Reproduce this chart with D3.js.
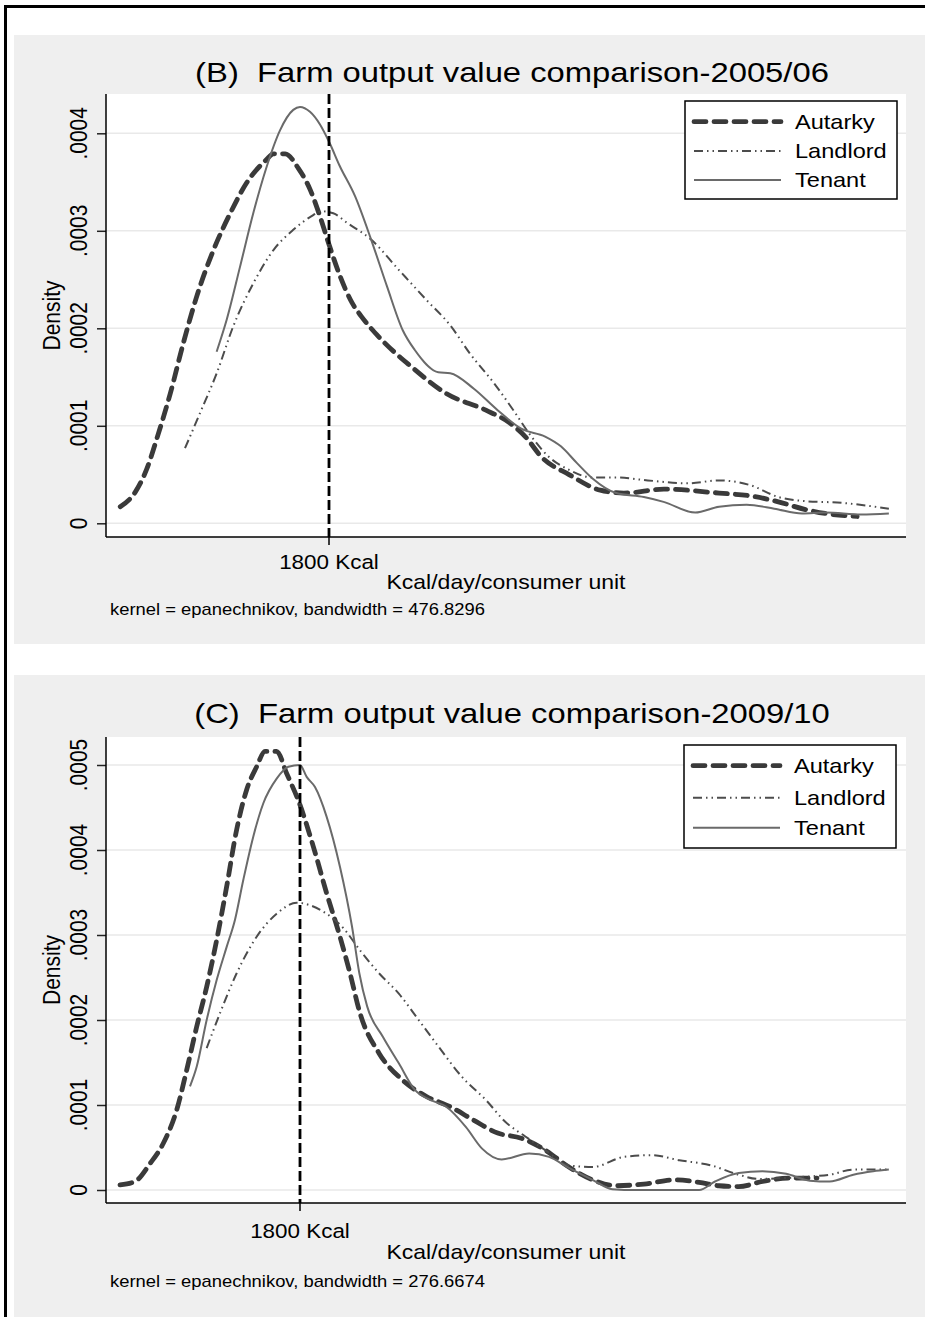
<!DOCTYPE html>
<html>
<head>
<meta charset="utf-8">
<script src="https://cdn.jsdelivr.net/npm/d3@7"></script>
<style>
  body { margin: 0; background: #fff; }
  svg { display: block; font-family: "Liberation Sans", Arial, sans-serif; }
  svg text { white-space: pre; }
</style>
</head>
<body>
<div id="chart"></div>
<script>
// density values below are in units of 1e-4, x in Kcal/day/consumer unit
const UNIT = 1e-4;
const seriesNames = ["Autarky", "Landlord", "Tenant"];

// panel B: 2005/06
const titleB = "(B)  Farm output value comparison-2005/06";
const noteB = "kernel = epanechnikov, bandwidth = 476.8296";
const yTicksB = [0, 0.0001, 0.0002, 0.0003, 0.0004];
const autarkyB = [[130,0.17],[250,0.32],[340,0.55],[435,0.92],[530,1.33],[635,1.85],[740,2.32],[875,2.80],[1010,3.18],[1140,3.49],[1300,3.73],[1355,3.79],[1450,3.79],[1555,3.64],[1650,3.42],[1730,3.14],[1800,2.86],[1890,2.53],[1985,2.26],[2060,2.12],[2200,1.91],[2455,1.61],[2740,1.33],[3055,1.16],[3245,1.03],[3370,0.89],[3500,0.68],[3720,0.50],[3970,0.34],[4160,0.31],[4480,0.35],[4920,0.31],[5175,0.28],[5395,0.22],[5615,0.14],[5775,0.10],[6025,0.07]];
const landlordB = [[648,0.77],[768,1.13],[902,1.54],[1034,2.02],[1194,2.46],[1354,2.80],[1514,3.01],[1648,3.14],[1742,3.20],[1834,3.18],[1947,3.08],[2137,2.91],[2358,2.60],[2580,2.29],[2770,2.03],[2928,1.74],[3118,1.44],[3275,1.16],[3402,0.92],[3560,0.68],[3718,0.55],[3908,0.47],[4098,0.47],[4350,0.44],[4666,0.41],[4920,0.44],[5173,0.39],[5394,0.27],[5584,0.23],[5900,0.21],[6279,0.15]];
const tenantB = [[901,1.76],[982,2.09],[1088,2.63],[1194,3.18],[1302,3.66],[1408,4.03],[1514,4.24],[1568,4.27],[1648,4.22],[1728,4.09],[1805,3.90],[1884,3.67],[2010,3.35],[2137,2.91],[2264,2.43],[2390,1.98],[2485,1.78],[2674,1.55],[2770,1.54],[2959,1.38],[3149,1.16],[3338,0.97],[3529,0.89],[3655,0.79],[3782,0.62],[3908,0.46],[4098,0.31],[4319,0.27],[4477,0.22],[4730,0.11],[4920,0.17],[5141,0.19],[5362,0.15],[5584,0.10],[5774,0.11],[6058,0.09],[6279,0.10]];

// panel C: 2009/10
const titleC = "(C)  Farm output value comparison-2009/10";
const noteC = "kernel = epanechnikov, bandwidth = 276.6674";
const yTicksC = [0, 0.0001, 0.0002, 0.0003, 0.0004, 0.0005];
const autarkyC = [[720,0.06],[810,0.10],[900,0.31],[980,0.55],[1060,0.94],[1120,1.41],[1180,1.92],[1240,2.39],[1300,2.94],[1360,3.57],[1420,4.24],[1480,4.71],[1540,4.98],[1590,5.16],[1660,5.16],[1720,4.90],[1800,4.53],[1880,4.04],[1960,3.49],[2040,2.98],[2100,2.55],[2160,2.08],[2274,1.61],[2417,1.29],[2559,1.10],[2701,0.98],[2843,0.82],[2986,0.67],[3128,0.61],[3271,0.47],[3413,0.27],[3555,0.12],[3697,0.05],[3863,0.07],[4053,0.12],[4195,0.09],[4314,0.05],[4432,0.04],[4575,0.10],[4741,0.14],[4902,0.14]];
const landlordC = [[1240,1.67],[1320,2.08],[1420,2.55],[1540,2.98],[1660,3.25],[1780,3.38],[1860,3.35],[1960,3.25],[2060,3.08],[2160,2.82],[2274,2.55],[2393,2.31],[2512,2.00],[2630,1.69],[2772,1.33],[2915,1.06],[3033,0.80],[3152,0.63],[3271,0.47],[3413,0.29],[3555,0.27],[3745,0.39],[3911,0.41],[4076,0.35],[4266,0.29],[4432,0.18],[4551,0.13],[4693,0.14],[4859,0.16],[4978,0.18],[5120,0.24],[5333,0.24]];
const tenantC = [[1140,1.22],[1180,1.45],[1240,2.00],[1300,2.47],[1360,2.86],[1410,3.18],[1460,3.65],[1520,4.16],[1580,4.55],[1660,4.84],[1730,4.98],[1800,5.00],[1840,4.86],[1890,4.74],[1960,4.39],[2040,3.80],[2112,3.10],[2156,2.55],[2203,2.16],[2298,1.80],[2393,1.49],[2488,1.18],[2582,1.06],[2677,0.98],[2796,0.74],[2891,0.49],[3010,0.36],[3175,0.43],[3294,0.39],[3413,0.26],[3555,0.12],[3674,0.01],[3816,0.00],[4195,0.00],[4290,0.10],[4432,0.20],[4575,0.22],[4717,0.19],[4859,0.11],[4978,0.10],[5120,0.18],[5239,0.22],[5333,0.24]];

const refLine = 1800;
const refLabel = "1800 Kcal";
const xTitle = "Kcal/day/consumer unit";
const yTitle = "Density";

const W = 925, H = 1317;
const SX = 1.15; // the source graph is stretched sideways a bit

const styles = [
  { color: "#3a3a3a", width: 4.8, dash: "12,8", cap: "round" },
  { color: "#4c4c4c", width: 2, dash: "9,4,1.5,4,1.5,4", cap: "butt" },
  { color: "#6a6a6a", width: 2, dash: null, cap: "butt" }
];

const svg = d3.select("#chart").append("svg")
  .attr("width", W)
  .attr("height", H);

// outer frame
svg.append("rect")
  .attr("x", 5.5).attr("y", 6.5)
  .attr("width", 960).attr("height", 1360)
  .attr("fill", "#fff")
  .attr("stroke", "#000")
  .attr("stroke-width", 3);

function label(g, x, y, txt, size, anchor, rot) {
  return g.append("text")
    .attr("transform", `translate(${x},${y}) scale(${SX},1)` + (rot ? ` rotate(${rot})` : ""))
    .attr("text-anchor", anchor || "start")
    .attr("font-size", size)
    .attr("fill", "#000")
    .text(txt);
}

const fmtY = d => d === 0 ? "0" : d3.format(".4f")(d).replace(/^0/, "");

function drawPanel(p) {
  const g = svg.append("g");

  g.append("rect")
    .attr("x", 14).attr("y", p.bgTop)
    .attr("width", W - 14).attr("height", p.bgBottom - p.bgTop)
    .attr("fill", "#efefef");

  const x = d3.scaleLinear().domain(p.xDomain).range([p.left, p.right]);
  const y = d3.scaleLinear().domain([0, p.yTicks[p.yTicks.length - 1]]).range(p.yRange);

  g.append("rect")
    .attr("x", p.left).attr("y", p.top)
    .attr("width", p.right - p.left).attr("height", p.bottom - p.top)
    .attr("fill", "#fff");

  // gridlines
  g.selectAll(".grid").data(p.yTicks).join("line")
    .attr("x1", p.left).attr("x2", p.right)
    .attr("y1", d => y(d)).attr("y2", d => y(d))
    .attr("stroke", "#e9e9e9").attr("stroke-width", 1.5);

  // y axis
  const yAxis = g.append("g")
    .attr("transform", `translate(${p.left},0)`)
    .call(d3.axisLeft(y).tickValues(p.yTicks).tickSize(9).tickFormat(""));
  yAxis.select(".domain").remove();
  yAxis.selectAll("line").attr("stroke", "#222").attr("stroke-width", 1.5);

  p.yTicks.forEach(t => {
    label(g, 87, y(t), fmtY(t), 21, "middle", -90);
  });
  label(g, 60, (p.top + p.bottom) / 2, yTitle, 21, "middle", -90);

  // axis lines
  g.append("line")
    .attr("x1", p.left).attr("x2", p.left)
    .attr("y1", p.top).attr("y2", p.bottom)
    .attr("stroke", "#000").attr("stroke-width", 1.5);
  g.append("line")
    .attr("x1", p.left).attr("x2", p.right)
    .attr("y1", p.bottom).attr("y2", p.bottom)
    .attr("stroke", "#000").attr("stroke-width", 1.5);

  // curves
  const line = d3.line()
    .x(d => x(d[0]))
    .y(d => y(d[1] * UNIT))
    .curve(d3.curveMonotoneX);

  p.series.forEach((s, i) => {
    const st = styles[i];
    g.append("path")
      .datum(s)
      .attr("d", line)
      .attr("fill", "none")
      .attr("stroke", st.color)
      .attr("stroke-width", st.width)
      .attr("stroke-dasharray", st.dash)
      .attr("stroke-linecap", st.cap)
      .attr("stroke-linejoin", "round");
  });

  // reference line at 1800 Kcal
  g.append("line")
    .attr("x1", x(refLine)).attr("x2", x(refLine))
    .attr("y1", p.top).attr("y2", p.bottom)
    .attr("stroke", "#000").attr("stroke-width", 2.8)
    .attr("stroke-dasharray", "10,4");
  g.append("line")
    .attr("x1", x(refLine)).attr("x2", x(refLine))
    .attr("y1", p.bottom).attr("y2", p.bottom + 8)
    .attr("stroke", "#000").attr("stroke-width", 1.5);

  label(g, x(refLine), p.refY, refLabel, 19.5, "middle");
  label(g, (p.left + p.right) / 2, p.xTitleY, xTitle, 20, "middle");
  label(g, 110, p.noteY, p.note, 16, "start");
  label(g, 512, p.titleY, p.title, 28.5, "middle");

  // legend
  const lg = g.append("g");
  lg.append("rect")
    .attr("x", p.legend.x).attr("y", p.legend.y)
    .attr("width", p.legend.w).attr("height", p.legend.h)
    .attr("fill", "#fff").attr("stroke", "#000").attr("stroke-width", 1.5);
  seriesNames.forEach((name, i) => {
    const st = styles[i];
    const ry = p.legend.rows[i];
    lg.append("line")
      .attr("x1", p.legend.x + 9).attr("x2", p.legend.x + 96)
      .attr("y1", ry).attr("y2", ry)
      .attr("stroke", st.color)
      .attr("stroke-width", st.width)
      .attr("stroke-dasharray", st.dash)
      .attr("stroke-linecap", st.cap);
    label(lg, p.legend.x + 110, ry + 7, name, 20.5, "start");
  });
}

drawPanel({
  bgTop: 35, bgBottom: 644,
  left: 106, right: 906, top: 94, bottom: 537,
  xDomain: [16, 6416], yTicks: yTicksB, yRange: [523.3, 133.3],
  series: [autarkyB, landlordB, tenantB],
  title: titleB, titleY: 82, note: noteB,
  refY: 569, xTitleY: 589, noteY: 615,
  legend: { x: 685, y: 101, w: 212, h: 98, rows: [121.7, 151, 180] }
});

drawPanel({
  bgTop: 675, bgBottom: H,
  left: 106, right: 906, top: 737, bottom: 1203,
  xDomain: [636, 5436], yTicks: yTicksC, yRange: [1190, 765],
  series: [autarkyC, landlordC, tenantC],
  title: titleC, titleY: 723, note: noteC,
  refY: 1238, xTitleY: 1259, noteY: 1287,
  legend: { x: 684, y: 745, w: 212, h: 103, rows: [765.7, 797.7, 827.7] }
});
</script>
</body>
</html>
